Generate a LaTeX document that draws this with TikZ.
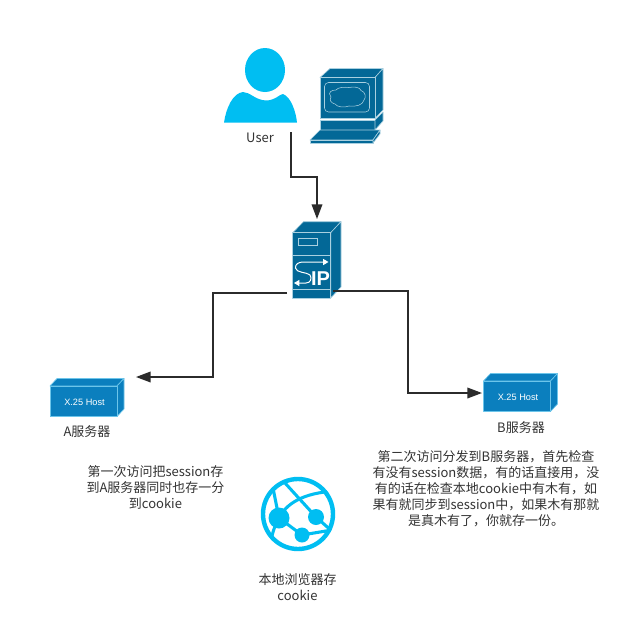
\documentclass[tikz,border=0pt]{standalone}
\usepackage{fontspec}
\setmainfont{Noto Sans CJK SC}
\newfontfamily\hostfont{Liberation Sans}
\usetikzlibrary{arrows.meta}
\definecolor{cyanb}{HTML}{00BEF2}
\definecolor{cisco}{HTML}{036897}
\definecolor{ciscoline}{HTML}{A9D0E0}
\definecolor{hostb}{HTML}{0B7FBE}
\definecolor{hostl}{HTML}{6CC5EA}
\definecolor{txt}{HTML}{333333}
\definecolor{conn}{HTML}{2B2B2B}
\tikzset{
  x=.75pt,y=-.75pt,
  lbl/.style={font=\fontsize{9.75pt}{12pt}\selectfont,text=txt,inner sep=0pt,align=center},
  para/.style={font=\fontsize{9.75pt}{12pt}\selectfont,text=txt,inner sep=0pt,align=center},
  hit/.style={inner sep=0pt,outer sep=0pt},
  conline/.style={draw=conn,line width=1.1pt,-{Triangle[length=11pt,width=8pt]}},
  eq/.style={fill=cisco,draw=ciscoline,line width=.45pt,line join=round},
  hostf/.style={fill=hostb,draw=hostl,line width=.5pt,line join=round},
  glob/.style={cyanb,line width=2.3pt},
}
\newcommand{\hostbox}[3]{%
  \filldraw[hostf] (#1,#2)--(#1+7,#2-7.5)--(#1+74,#2-7.5)--(#1+67,#2)--cycle;
  \filldraw[hostf] (#1+67,#2)--(#1+74,#2-7.5)--(#1+74,#2+23)--(#1+67,#2+30.5)--cycle;
  \filldraw[hostf] (#1,#2) rectangle (#1+67,#2+30.5);
  \node[inner sep=0pt,text=white,font=\hostfont\fontsize{6.9pt}{8pt}\selectfont] at (#1+34.5,#2+16) {#3};
}
\begin{document}
\begin{tikzpicture}
\useasboundingbox (0,0) rectangle (633,636);
\fill[white] (0,0) rectangle (633,636);
% user icon
\fill[cyanb] (265,70) ellipse (20 and 22);
\fill[cyanb] (224,122.7) .. controls (226,108) and (233,93) .. (243,92)
  .. controls (250,92) and (255,100) .. (266,100.5)
  .. controls (275,100.5) and (280,94) .. (283,94)
  .. controls (291,97) and (296,112) .. (297,122.7) -- cycle;
\node[hit,minimum width=55pt,minimum height=55pt] (user) at (261,86) {};
\node[lbl] (userlbl) at (260,138) {User};
% computer
\filldraw[eq] (320,77.5)--(330,68.5)--(383,68.5)--(375,77.5)--cycle;
\filldraw[eq] (375,77.5)--(383,68.5)--(383,110)--(375,118.5)--cycle;
\filldraw[eq] (320,77.5) rectangle (375,118.5);
\draw[ciscoline,line width=.4pt,rounded corners=3pt] (324.5,82.5) rectangle (369.5,112);
\draw[ciscoline,line width=.4pt] (331,97) .. controls (327,92) and (332,90) .. (336,90)
 .. controls (338,87) and (345,87) .. (349,87.5) .. controls (354,86.5) and (360,87) .. (361,90.5)
 .. controls (366,92) and (366,98) .. (364,100) .. controls (363,105) and (356,107) .. (349,106)
 .. controls (344,108) and (337,107) .. (335,104) .. controls (331,103) and (329,100) .. (331,97) -- cycle;
\filldraw[eq] (320,120) rectangle (375,130);
\filldraw[eq] (375,120)--(383,112)--(383,121)--(375,130)--cycle;
\filldraw[eq] (310,140)--(320,130)--(380,130)--(373,140)--cycle;
\filldraw[eq] (310,140) rectangle (373,143);
\filldraw[eq] (373,140)--(380,130)--(380,134)--(373,143)--cycle;
% SIP server
\filldraw[eq] (292.7,232.7)--(303.5,221.7)--(341,221.7)--(330.7,232.7)--cycle;
\filldraw[eq] (330.7,232.7)--(341,221.7)--(341,287)--(330.7,298)--cycle;
\filldraw[eq] (292.7,232.7) rectangle (330.7,298);
\draw[ciscoline,line width=.45pt] (298.5,238) rectangle (317,245.5);
\draw[ciscoline,line width=.45pt] (292.7,255)--(330.7,255) (292.7,289)--(330.7,289);
\draw[white,line width=.75pt,{Triangle[length=4pt,width=4.5pt]}-{Triangle[length=4pt,width=4.5pt]}] (294,283) -- (306,283) .. controls (311,283) and (312,278) .. (310,275) .. controls (307,272) and (296,273) .. (295.5,268) .. controls (295,264) and (299,262) .. (303,262) -- (328.5,262);
\node[inner sep=0pt,text=white,font=\hostfont\bfseries\fontsize{15pt}{15pt}\selectfont] at (320.5,279) {IP};
\node[hit,minimum width=37pt,minimum height=57pt] (sip) at (317,260) {};
% hosts
\hostbox{50}{386}{X.25 Host}
\hostbox{483.5}{381}{X.25 Host}
\node[hit,minimum width=55pt,minimum height=28pt] (hosta) at (87,397) {};
\node[hit,minimum width=55pt,minimum height=28pt] (hostb) at (520,393) {};
\node[lbl] (alabel) at (87,432) {A服务器};
\node[lbl] (blabel) at (521,428) {B服务器};
% texts
\node[para] (atext) at (155.5,487) {第一次访问把session存\\到A服务器同时也存一分\\到cookie};
\node[para] (btext) at (486,489) {第二次访问分发到B服务器，首先检查\\有没有session数据，有的话直接用，没\\有的话在检查本地cookie中有木有，如\\果有就同步到session中，如果木有那就\\是真木有了，你就存一份。};
% globe
\begin{scope}
\clip (298,514) circle (37);
\draw[glob] (273,488) -- (279,518);
\draw[glob] (285,483) -- (316,517) -- (334,533);
\draw[glob] (279,518) .. controls (288,500) and (310,492) .. (337,491);
\draw[glob] (279,518) -- (302,535) -- (332,530);
\draw[glob] (277,522) .. controls (273,530) and (271,538) .. (271,546);
\end{scope}
\draw[cyanb,line width=3.3pt] (298,514) circle (35);
\fill[cyanb] (279,518) circle (10.5) (316,517) circle (8) (302,535) circle (7.5);
\node[hit,minimum width=55pt,minimum height=55pt] (globe) at (298,514) {};
\node[lbl] (gtext) at (297.5,587) {本地浏览器存\\cookie};
% connectors
\coordinate (c1) at (291,132);
\coordinate (c1t) at (317,219);
\coordinate (c2) at (287,293);
\coordinate (c2t) at (136,377);
\coordinate (c3) at (333,291);
\coordinate (c3t) at (482,393);
\draw[conline] (c1) -- (291,177) -- (317,177) -- (c1t);
\draw[conline] (c2) -- (213,293) -- (213,377) -- (c2t);
\draw[conline] (c3) -- (408,291) -- (408,393) -- (c3t);
\end{tikzpicture}
\end{document}
